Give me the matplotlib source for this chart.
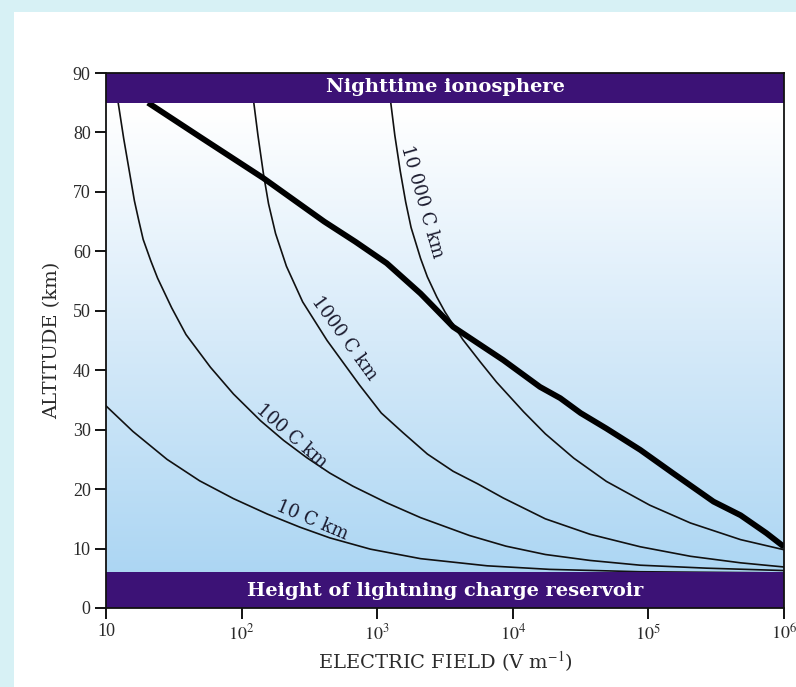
import numpy as np
import matplotlib
matplotlib.use('Agg')
import matplotlib.pyplot as plt
from matplotlib.colors import LinearSegmentedColormap
from matplotlib.patches import Rectangle
import matplotlib.transforms as mtransforms

plt.rcParams['font.family'] = ['Liberation Serif', 'DejaVu Serif']
plt.rcParams['mathtext.fontset'] = 'stix'

# ---- data (electric field in V/m, altitude in km) ----
breakdown_E = [20.4, 49, 145, 407, 692, 1175, 2089, 3630, 8510, 15850, 22390, 31620,
               48980, 87100, 151400, 302000, 478600, 741300, 1000000]
breakdown_alt = [85, 79.3, 72.3, 65.0, 61.6, 58.0, 52.9, 47.3, 41.7, 37.2, 35.3, 32.8,
                 30.2, 26.6, 22.7, 17.9, 15.6, 12.6, 10.3]

m10000_E = [1259, 1349, 1479, 1622, 1778, 2089, 2344, 2754, 3162, 4266, 5754,
            7586, 12020, 17380, 28180, 48980, 102300, 204200, 478600, 1000000]
m10000_alt = [85, 79.5, 73.5, 68.3, 64.0, 58.8, 55.7, 52.3, 49.8, 45.2, 41.4,
              38.0, 33.0, 29.3, 25.2, 21.3, 17.3, 14.3, 11.5, 9.8]

m1000_E = [123, 132, 145, 158, 178, 214, 282, 427, 741, 1072, 1549, 2344, 3631,
           5495, 8511, 17380, 37150, 87100, 204200, 478600, 1000000]
m1000_alt = [85, 79.5, 73.0, 68.0, 63.0, 57.5, 51.5, 45.0, 37.5, 32.8, 29.5, 25.9, 23.0,
             20.9, 18.5, 15.0, 12.4, 10.3, 8.7, 7.6, 6.9]

m100_E = [12.3, 13.5, 16.2, 17.4, 18.8, 21.4, 24.0, 30.5, 38.9, 58.9, 87.1, 138, 204,
          302, 447, 661, 1175, 2089, 4786, 8913, 17380, 37150, 87100, 269200, 1000000]
m100_alt = [85, 79.0, 68.5, 65.3, 62.0, 58.4, 55.5, 50.5, 46.0, 40.5, 36.0, 31.5, 28.2,
            25.3, 22.7, 20.5, 17.7, 15.2, 12.2, 10.4, 9.0, 8.0, 7.2, 6.7, 6.3]

m10_E = [10, 15.8, 28.2, 49, 87.1, 155, 269, 447, 891, 2089, 6457, 18620,
         87100, 1000000]
m10_alt = [34.0, 29.7, 25.0, 21.4, 18.4, 15.8, 13.6, 11.8, 9.9, 8.3, 7.1, 6.5,
           6.1, 5.9]

ionosphere_alt = [85, 90]
reservoir_alt = [0, 6]

x_ticks = [10, 1e2, 1e3, 1e4, 1e5, 1e6]
x_tick_labels = ['10', r'$10^{2}$', r'$10^{3}$', r'$10^{4}$', r'$10^{5}$', r'$10^{6}$']
y_ticks = [0, 10, 20, 30, 40, 50, 60, 70, 80, 90]

curve_labels = ['10 000 C km', '1000 C km', '100 C km', '10 C km']

# ---- figure ----
fig = plt.figure(figsize=(7.96, 6.87), dpi=100)
fig.patch.set_facecolor('#d7f1f5')
fig.add_artist(Rectangle((14 / 796, 0), 1, 1 - 12 / 687, transform=fig.transFigure,
                         facecolor='white', edgecolor='none', zorder=-10))

ax = fig.add_axes([106 / 796, 1 - 608 / 687, 678 / 796, 535 / 687], zorder=1)
ax.set_xscale('log')

# background gradient (white at top to light blue at bottom)
cmap = LinearSegmentedColormap.from_list(
    'sky', [(0.0, '#a6d3f2'), (0.5, '#d6eaf9'), (0.93, '#ffffff'), (1.0, '#ffffff')])
grad = np.linspace(0, 1, 256).reshape(-1, 1)
ax.imshow(grad, extent=[0, 1, 0, 1], transform=ax.transAxes, origin='lower',
          aspect='auto', cmap=cmap, zorder=0)

purple = '#3c1276'
ax.axhspan(ionosphere_alt[0], ionosphere_alt[1], color=purple, zorder=4.5, lw=0)
ax.axhspan(reservoir_alt[0], reservoir_alt[1], color=purple, zorder=4.5, lw=0)

trans = mtransforms.blended_transform_factory(ax.transAxes, ax.transData)
band_font = dict(family='DejaVu Serif', fontsize=14, fontweight='bold', color='white',
                 ha='center', va='center', zorder=5)
ax.text(0.5, 87.6, 'Nighttime ionosphere', transform=trans, **band_font)
ax.text(0.5, 2.9, 'Height of lightning charge reservoir', transform=trans, **band_font)

# curves
thin = dict(color='#111111', lw=1.2, solid_joinstyle='round', zorder=3)
ax.plot(m10_E, m10_alt, **thin)
ax.plot(m100_E, m100_alt, **thin)
ax.plot(m1000_E, m1000_alt, **thin)
ax.plot(m10000_E, m10000_alt, **thin)
ax.plot(breakdown_E, breakdown_alt, color='black', lw=4.2, solid_joinstyle='round',
        solid_capstyle='butt', zorder=4)

# curve labels
lab = dict(family='DejaVu Serif', fontsize=13, color='#1a1a2e', ha='center',
           va='center', rotation_mode='anchor', zorder=5)
ax.text(2150, 68.3, curve_labels[0], rotation=-74, **lab)
ax.text(570, 45.3, curve_labels[1], rotation=-54, **lab)
ax.text(235, 28.9, curve_labels[2], rotation=-41, **lab)
ax.text(330, 14.7, curve_labels[3], rotation=-23, **lab)

ax.set_xlim(10, 1e6)
ax.set_ylim(0, 90)
ax.set_xticks(x_ticks)
ax.set_xticklabels(x_tick_labels)
ax.minorticks_off()
ax.set_yticks(y_ticks)
ax.tick_params(direction='out', length=8, width=1.3, labelsize=13,
               labelcolor='#2a2a2a', pad=3)

for s in ax.spines.values():
    s.set_linewidth(1.3)
    s.set_color('#111111')
    s.set_zorder(6)

ax.set_ylabel('ALTITUDE (km)', family='DejaVu Serif', fontsize=14, color='#2a2a2a',
              labelpad=8)
ax.set_xlabel(r'ELECTRIC FIELD (V m$^{-1}$)', family='DejaVu Serif', fontsize=14,
              color='#2a2a2a', labelpad=4)

fig.savefig('out.png', dpi=100, facecolor=fig.get_facecolor())
